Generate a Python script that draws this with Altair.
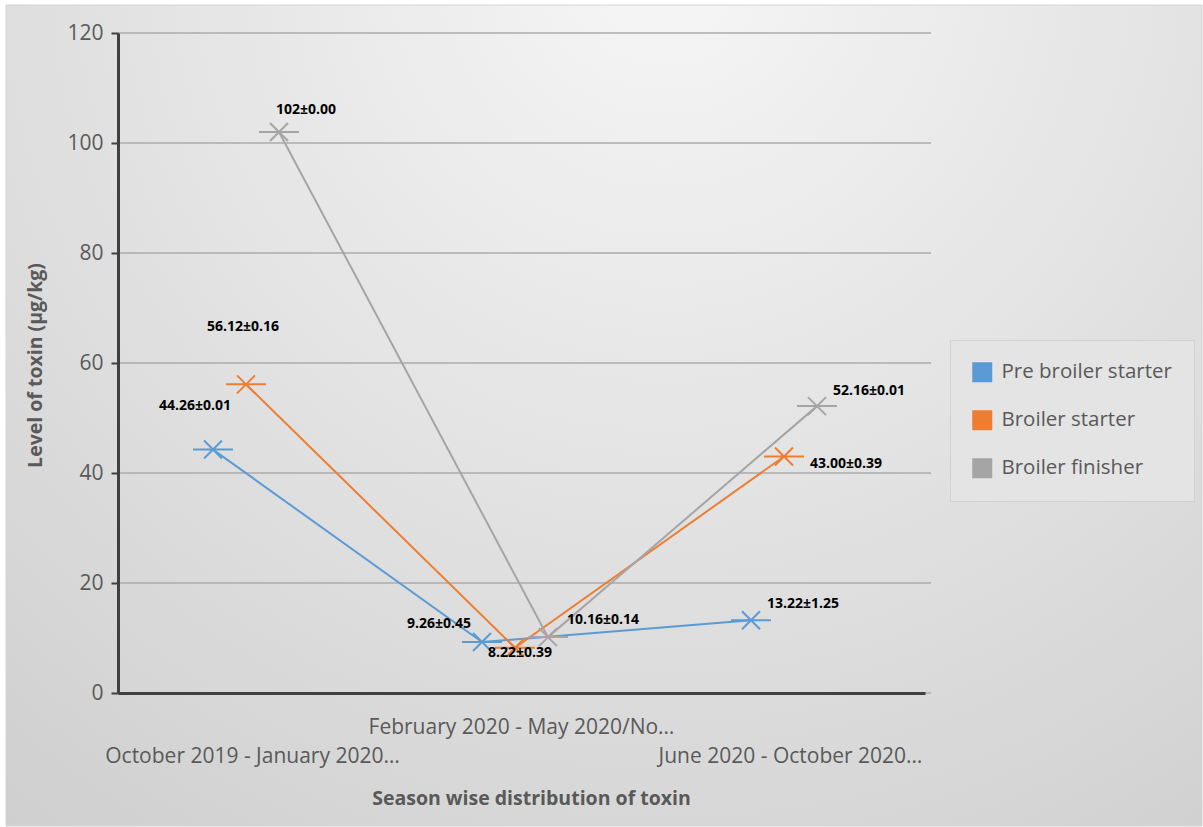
import altair as alt
import pandas as pd

# ---------------- data ----------------
seasons = ["October 2019 - January 2020…", "February 2020 - May 2020/No…", "June 2020 - October 2020…"]
series = ["Pre broiler starter", "Broiler starter", "Broiler finisher"]
pre_broiler_starter = [44.26, 9.26, 13.22]
broiler_starter = [56.12, 8.22, 43.00]
broiler_finisher = [102.0, 10.16, 52.16]
pre_broiler_starter_labels = ["44.26±0.01", "9.26±0.45", "13.22±1.25"]
broiler_starter_labels = ["56.12±0.16", "8.22±0.39", "43.00±0.39"]
broiler_finisher_labels = ["102±0.00", "10.16±0.14", "52.16±0.01"]
y_ticks = [0, 20, 40, 60, 80, 100, 120]

colors = ["#5b9bd5", "#ed7d31", "#a5a5a5"]

rows = []
for s, vals, labs in zip(series,
                         [pre_broiler_starter, broiler_starter, broiler_finisher],
                         [pre_broiler_starter_labels, broiler_starter_labels, broiler_finisher_labels]):
    for i, (season, v, lab) in enumerate(zip(seasons, vals, labs)):
        rows.append({"season": season, "ci": i, "series": s, "value": v, "label": lab})
df = pd.DataFrame(rows)
grid_df = pd.DataFrame({"value": y_ticks})

# ---------------- layout ----------------
W, H = 807, 660
PAD = {"left": 118, "top": 33, "right": 278, "bottom": 134}
FONT = "Open Sans"
GREY_TXT = "#595959"
AXIS_COL = "#404040"

x_axis = alt.Axis(
    title="Season wise distribution of toxin",
    labelExpr="datum.index == 0.5 ? [datum.label, ''] : ['', datum.label]",
    labelFont=FONT, labelFontSize=21, labelColor=GREY_TXT, labelLineHeight=29,
    labelPadding=23, labelLimit=0, labelOverlap=False, labelAngle=0,
    ticks=False, tickSize=0, domainColor=AXIS_COL, domainWidth=3, grid=False,
    titleFont=FONT, titleFontSize=19.5, titleFontWeight="bold", titleColor=GREY_TXT,
    titleX=413, titleY=105, titleAlign="center", titleBaseline="middle",
    zindex=1,
)
x_enc = alt.X("season:N", sort=seasons,
              scale=alt.Scale(type="band", paddingInner=0, paddingOuter=0),
              axis=x_axis)
xoff_enc = alt.XOffset("series:N", sort=series, scale=alt.Scale(range=[95, 161], padding=0))

y_scale = alt.Scale(domain=[0, 120])
y_axis = alt.Axis(
    values=y_ticks, grid=False,
    labelFont=FONT, labelFontSize=21, labelColor=GREY_TXT, labelPadding=8,
    tickSize=7, tickColor=AXIS_COL, tickWidth=2,
    domainColor=AXIS_COL, domainWidth=3,
    title="Level of toxin (µg/kg)", titleFont=FONT, titleFontSize=19.5,
    titleFontWeight="bold", titleColor=GREY_TXT,
    titleAngle=270, titleX=-83, titleY=332, titleAlign="center", titleBaseline="middle",
    zindex=1,
)
y_enc = alt.Y("value:Q", scale=y_scale, axis=y_axis)

color_scale = alt.Scale(domain=series, range=colors)
color_nolegend = alt.Color("series:N", sort=series, scale=color_scale, legend=None)
color_legend = alt.Color(
    "series:N", sort=series, scale=color_scale,
    legend=alt.Legend(
        title=None, orient="none", legendX=832, legendY=307,
        fillColor="#e4e4e4", strokeColor="#d2d2d2", padding=22,
        symbolType="square", symbolSize=400, symbolStrokeWidth=0, symbolOpacity=1,
        labelFont=FONT, labelFontSize=20.5, labelColor=GREY_TXT, labelOffset=9,
        labelLimit=0, rowPadding=27,
    ),
)

# background panel with Excel-like gradient
bg = alt.Chart(alt.Data(values=[{"a": 1}])).mark_rect(
    clip=False,
    fill={"gradient": "radial", "x1": 0.55, "y1": 0.12, "r1": 0,
          "x2": 0.55, "y2": 0.12, "r2": 0.95,
          "stops": [{"offset": 0, "color": "#f6f6f6"},
                    {"offset": 1, "color": "#cdcdcd"}]},
    stroke="#d4d4d4", strokeWidth=1,
).encode(
    x=alt.value(-112), x2=alt.value(W + PAD["right"] - 1),
    y=alt.value(-28), y2=alt.value(H + PAD["bottom"] - 1),
)

grid = alt.Chart(grid_df).mark_rule(color="#ababab", strokeWidth=1.5).encode(
    y=y_enc, x=alt.value(0), x2=alt.value(W + 6),
)

# legend-only layer (no data rows drawn)
legend_layer = alt.Chart(df).transform_filter("false").mark_square(
    filled=True, opacity=1, size=400).encode(color=color_legend)

base = alt.Chart(df).encode(x=x_enc, xOffset=xoff_enc, y=y_enc, color=color_nolegend)

lines = base.mark_line(strokeWidth=2)
star = "M-0.45,-0.45L0.45,0.45M-0.45,0.45L0.45,-0.45M-1,0L1,0"
points = base.mark_point(shape=star, size=1600, filled=False, strokeWidth=2, opacity=1)

# label placement (style): (series, category index, dx, dy)
label_pos = [
    (series[0], 0, -18, -44), (series[0], 1, -43, -18), (series[0], 2, 52, -16),
    (series[1], 0, -3, -57), (series[1], 1, 5, 5), (series[1], 2, 62, 7),
    (series[2], 0, 27, -22), (series[2], 1, 55, -17), (series[2], 2, 52, -15),
]
label_layers = []
for s, ci, dx, dy in label_pos:
    label_layers.append(
        alt.Chart(df).transform_filter(
            (alt.datum.series == s) & (alt.datum.ci == ci)
        ).mark_text(dx=dx, dy=dy, font=FONT, fontSize=14, fontWeight="bold",
                    color="#000000", align="center", baseline="middle").encode(
            x=x_enc, xOffset=xoff_enc, y=y_enc, text="label:N")
    )

chart = alt.layer(bg, grid, legend_layer, lines, points, *label_layers).properties(
    width=W, height=H,
    autosize=alt.AutoSizeParams(type="none"),
    padding=PAD,
    background="white",
).configure_view(strokeOpacity=0)

chart.save("out.html", embed_options={"renderer": "svg", "actions": False})
